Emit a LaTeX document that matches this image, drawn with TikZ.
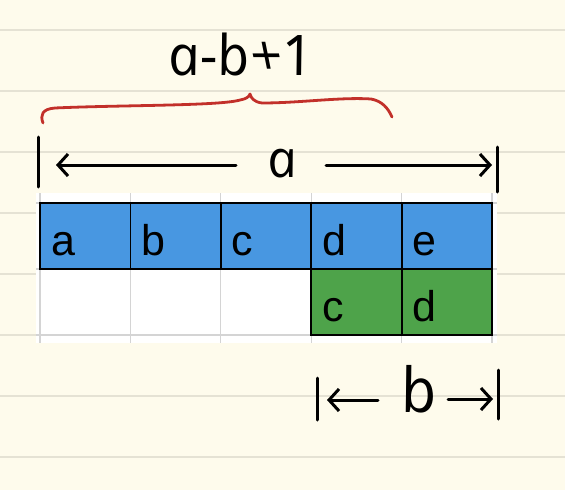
\documentclass[tikz,border=0pt]{standalone}
\usepackage{fontspec}
\setmainfont{Liberation Sans}
\newfontfamily\hand{Open Sans}[ItalicFeatures={FakeSlant=-0.2}]
\usetikzlibrary{arrows.meta}
\definecolor{paper}{HTML}{FEFBEC}
\definecolor{ruled}{HTML}{E5E2D4}
\definecolor{cellblue}{HTML}{4897E1}
\definecolor{cellgreen}{HTML}{4EA34A}
\definecolor{gridgray}{HTML}{D4D4D4}
\definecolor{bracered}{HTML}{C2302A}
\tikzset{
  cell/.style={draw=black, line width=1.8pt, minimum width=90.4pt, minimum height=66pt,
    inner xsep=11pt, inner ysep=0pt, text width=68.4pt, align=left,
    text height=52pt, text depth=14pt, font=\fontsize{43}{45}\selectfont},
  bluecell/.style={cell, fill=cellblue},
  greencell/.style={cell, fill=cellgreen},
  handtext/.style={font=\hand\itshape\fontsize{#1}{#1}\selectfont, inner sep=0pt, anchor=base},
  ink/.style={line width=3pt, line cap=round, black},
  dimarr/.style={ink, -{Straight Barb[length=10pt,width=22pt]}},
  ruleline/.style={ruled, line width=2pt},
}
\begin{document}
\begin{tikzpicture}[x=1pt,y=-1pt]
\useasboundingbox (0,0) rectangle (565,490);
\fill[paper] (0,0) rectangle (565,490);
% notebook rules
\foreach \yy in {29.5,90.5,151.5,212.5,273.5,334.5,395.5,456.5}
  \draw[ruleline] (0,\yy) -- (565,\yy);
% table background and grid
\fill[white] (36,193) rectangle (497,343);
\foreach \k in {0,...,5}
  \draw[gridgray, line width=1.2pt] (40+90.4*\k,193) -- (40+90.4*\k,343);
\foreach \yy in {203,269,335}
  \draw[gridgray, line width=1.2pt] (36,\yy) -- (497,\yy);
% cells
\node[bluecell] (r1c1) at (85.2,236) {a};
\node[bluecell] (r1c2) at (175.6,236) {b};
\node[bluecell] (r1c3) at (266.0,236) {c};
\node[bluecell] (r1c4) at (356.4,236) {d};
\node[bluecell] (r1c5) at (446.8,236) {e};
\node[greencell] (r2c4) at (356.4,302) {c};
\node[greencell] (r2c5) at (446.8,302) {d};
% a-b+1 label and brace
\node[handtext=56] (lab) at (244,75) {a-b+1};
\draw[bracered, line width=2.8pt, line cap=round, line join=round]
  (43,123) .. controls (40,115) and (42,109) .. (55,108)
  .. controls (120,105) and (220,106) .. (240,100)
  .. controls (246,99) and (249,97) .. (250,94)
  .. controls (251,98) and (254,102) .. (262,103)
  .. controls (300,103) and (340,97) .. (371,99)
  .. controls (382,101) and (388,108) .. (392,117);
% dimension a
\node[handtext=52] (la) at (285,177) {a};
\coordinate (aBarL1) at (38,137); \coordinate (aBarL2) at (38,187);
\coordinate (aBarR1) at (497,147); \coordinate (aBarR2) at (497,192);
\coordinate (aTipL) at (56,165); \coordinate (aShL) at (236,165);
\coordinate (aTipR) at (492,165); \coordinate (aShR) at (326,165);
\draw[ink] (aBarL1) -- (aBarL2);
\draw[ink] (aBarR1) -- (aBarR2);
\draw[dimarr] (aShL) -- (aTipL);
\draw[dimarr] (aShR) -- (aTipR);
% dimension b
\node[handtext=62] (lb) at (422,412) {b};
\coordinate (bBarL1) at (317,378); \coordinate (bBarL2) at (317,420);
\coordinate (bBarR1) at (498,370); \coordinate (bBarR2) at (498,419);
\coordinate (bTipL) at (327,400); \coordinate (bShL) at (378,400);
\coordinate (bTipR) at (493,399); \coordinate (bShR) at (448,399);
\draw[ink] (bBarL1) -- (bBarL2);
\draw[ink] (bBarR1) -- (bBarR2);
\draw[dimarr] (bShL) -- (bTipL);
\draw[dimarr] (bShR) -- (bTipR);
\end{tikzpicture}
\end{document}
